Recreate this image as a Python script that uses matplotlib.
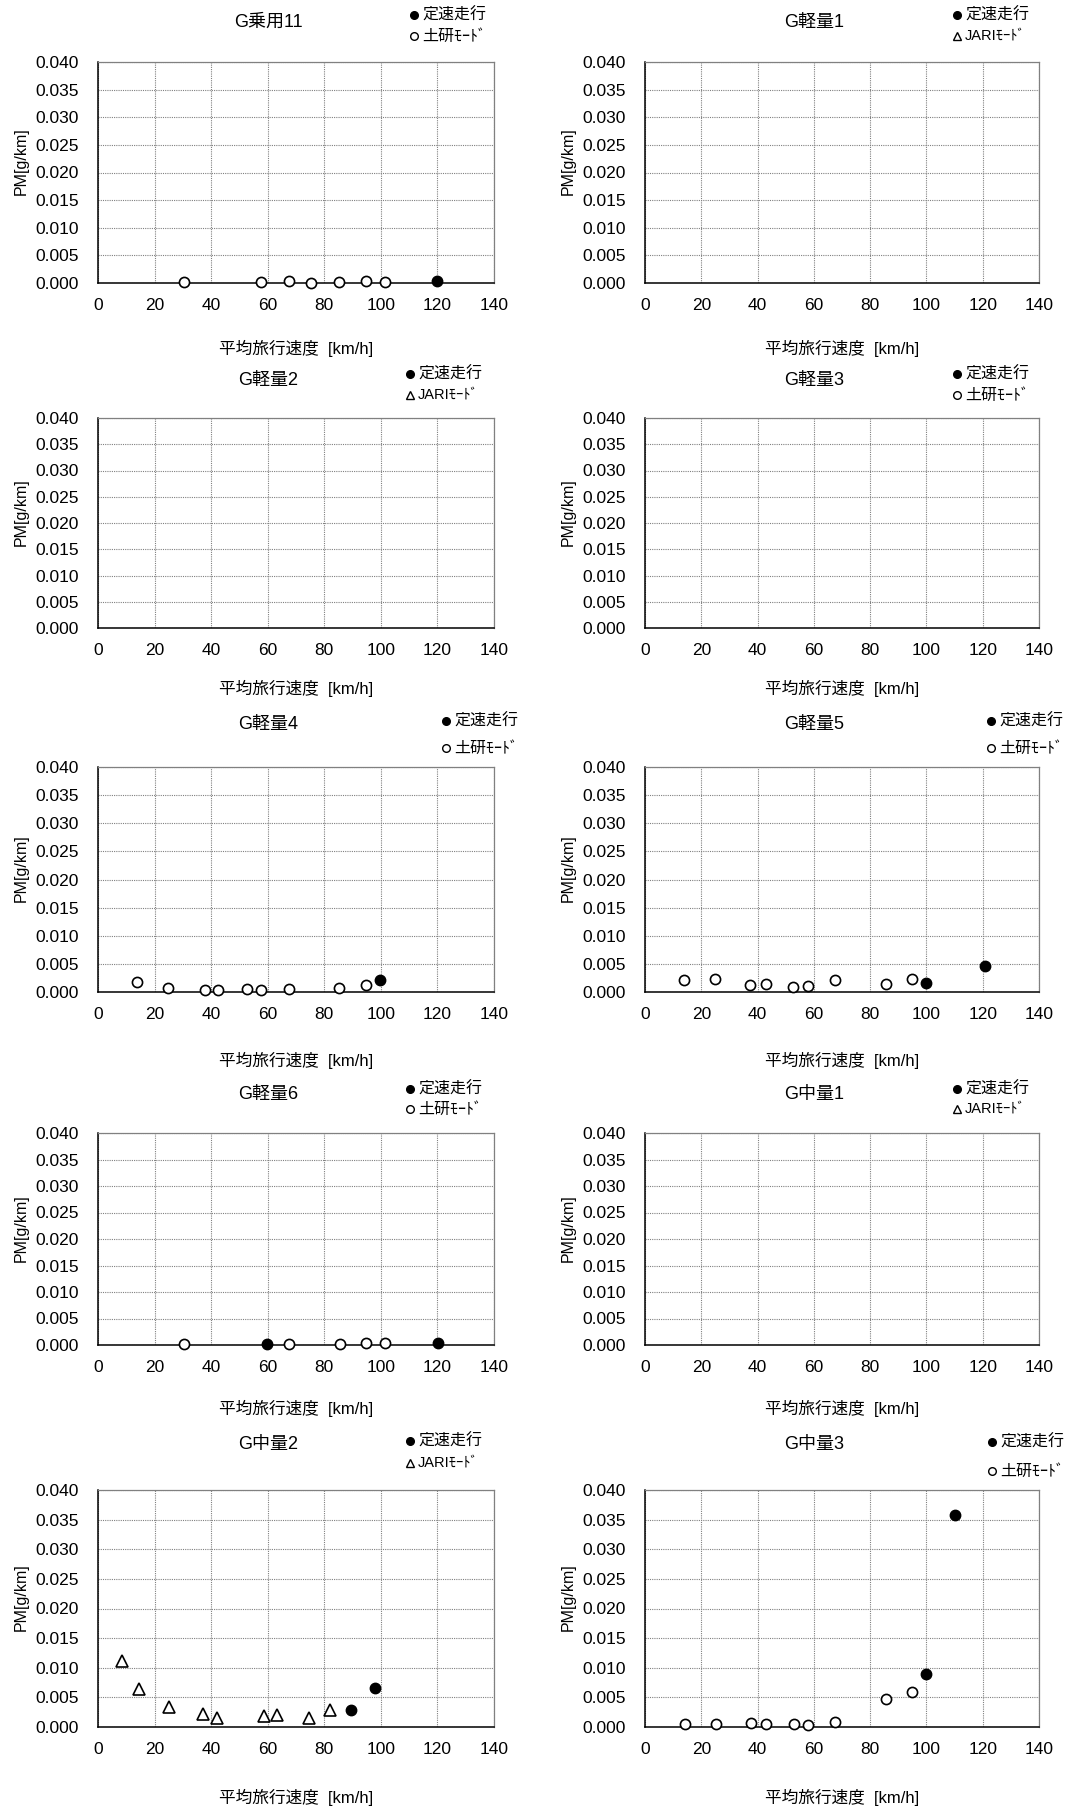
import numpy as np
import matplotlib
matplotlib.use("Agg")
import matplotlib.pyplot as plt
from matplotlib.lines import Line2D

plt.rcParams['font.family'] = ['Liberation Sans', 'Noto Sans CJK JP', 'DejaVu Sans']

# -------------------------------------------------
# data
# -------------------------------------------------
titles = ["G乗用11", "G軽量1", "G軽量2", "G軽量3", "G軽量4",
          "G軽量5", "G軽量6", "G中量1", "G中量2", "G中量3"]
mode_labels = ["土研ﾓｰﾄﾞ", "JARIﾓｰﾄﾞ", "JARIﾓｰﾄﾞ", "土研ﾓｰﾄﾞ", "土研ﾓｰﾄﾞ",
               "土研ﾓｰﾄﾞ", "土研ﾓｰﾄﾞ", "JARIﾓｰﾄﾞ", "JARIﾓｰﾄﾞ", "土研ﾓｰﾄﾞ"]
const_label = "定速走行"

# constant speed runs (filled circles)
const_x = [
    [120.0],
    [],
    [],
    [],
    [99.8],
    [100.0, 120.9],
    [59.8, 120.2],
    [],
    [89.4, 98.0],
    [100.0, 110.1],
]
const_y = [
    [0.0003],
    [],
    [],
    [],
    [0.0021],
    [0.0016, 0.0047],
    [0.0001, 0.0003],
    [],
    [0.0029, 0.0065],
    [0.0090, 0.0358],
]

# mode runs (open circles / triangles)
mode_x = [
    [30.4, 57.7, 67.6, 75.2, 85.3, 94.7, 101.3],
    [],
    [],
    [],
    [13.8, 24.8, 37.7, 42.6, 52.7, 57.6, 67.6, 85.3, 94.7],
    [13.8, 24.7, 37.3, 42.9, 52.7, 57.8, 67.5, 85.5, 94.8],
    [30.3, 67.4, 85.5, 94.7, 101.4],
    [],
    [8.4, 14.4, 25.2, 37.1, 41.9, 58.6, 63.2, 74.7, 81.9],
    [14.1, 25.2, 37.6, 42.9, 52.8, 57.8, 67.6, 85.5, 94.8],
]
mode_y = [
    [0.0001, 0.0001, 0.0003, 0.0000, 0.0001, 0.0003, 0.0001],
    [],
    [],
    [],
    [0.0017, 0.0008, 0.0004, 0.0004, 0.0005, 0.0004, 0.0005, 0.0008, 0.0012],
    [0.0021, 0.0023, 0.0012, 0.0015, 0.0009, 0.0010, 0.0022, 0.0014, 0.0024],
    [0.0001, 0.0001, 0.0002, 0.0004, 0.0003],
    [],
    [0.0111, 0.0064, 0.0034, 0.0022, 0.0015, 0.0019, 0.0020, 0.0015, 0.0029],
    [0.00045, 0.0005, 0.0007, 0.0005, 0.0005, 0.0003, 0.0008, 0.0048, 0.0059],
]

x_ticks = [0, 20, 40, 60, 80, 100, 120, 140]
y_ticks = [0.000, 0.005, 0.010, 0.015, 0.020, 0.025, 0.030, 0.035, 0.040]
x_label = "平均旅行速度  [km/h]"
y_label = "PM[g/km]"

# -------------------------------------------------
# layout (pixels)
# -------------------------------------------------
W, H = 1069, 1807
col_lr = [(98, 494), (645, 1039)]
row_tb = [(62, 283), (418, 628), (767, 992), (1133, 1345), (1490, 1727)]
title_y = [22, 381, 725, 1095, 1445]
xlab_y = [348, 688, 1060, 1408, 1797]
leg_x = [[414, 957], [410, 957], [446, 991], [410, 957], [410, 992]]
leg_y = [[(15, 36), (15, 36)], [(374, 395), (374, 395)], [(721, 748), (721, 748)],
         [(1089, 1109), (1089, 1109)], [(1441, 1463), (1442, 1471)]]

fig = plt.figure(figsize=(W / 100, H / 100), dpi=100)


def fx(px):
    return px / W


def fy(py):
    return 1 - py / H


for i, title in enumerate(titles):
    r, c = divmod(i, 2)
    l, rr = col_lr[c]
    t, b = row_tb[r]
    ax = fig.add_axes([fx(l), fy(b), fx(rr) - fx(l), fy(t) - fy(b)])

    ax.set_xlim(0, 140)
    ax.set_ylim(0, 0.040)
    ax.set_xticks(x_ticks)
    ax.set_yticks(y_ticks)
    ax.set_yticklabels([f"{v:.3f}" for v in y_ticks])
    ax.tick_params(length=0, labelsize=12.5)
    ax.tick_params(axis='x', pad=11)
    ax.tick_params(axis='y', pad=14)
    ax.grid(True, color='#808080', linestyle=(0, (1, 1)), linewidth=0.8)
    ax.set_axisbelow(True)
    for s in ['top', 'right']:
        ax.spines[s].set_color('#808080')
        ax.spines[s].set_linewidth(0.9)
    for s in ['left', 'bottom']:
        ax.spines[s].set_color('black')
        ax.spines[s].set_linewidth(1.1)

    jari = mode_labels[i].startswith("JARI")
    mk = '^' if jari else 'o'
    ax.plot(mode_x[i], mode_y[i], linestyle='none', marker=mk, markersize=8 if jari else 7.3,
            markerfacecolor='white', markeredgecolor='black', markeredgewidth=1.2,
            clip_on=False, zorder=3)
    ax.plot(const_x[i], const_y[i], linestyle='none', marker='o', markersize=7.5,
            markerfacecolor='black', markeredgecolor='black', clip_on=False, zorder=4)

    # title, axis labels
    fig.text(fx(l + 0.43 * (rr - l)), fy(title_y[r]), title, ha='center', va='center', fontsize=13)
    fig.text(fx((l + rr) / 2), fy(xlab_y[r]), x_label, ha='center', va='center', fontsize=12)
    fig.text(fx(l - 77), fy((t + b) / 2 - 11), y_label, ha='center', va='center',
             rotation=90, fontsize=11.5)

    # legend (text boxes above the plot)
    mx = leg_x[r][c]
    y1, y2 = leg_y[r][c]
    fig.add_artist(Line2D([fx(mx)], [fy(y1)], marker='o', markersize=5.5, color='black',
                          markerfacecolor='black', linestyle='none', transform=fig.transFigure))
    fig.add_artist(Line2D([fx(mx)], [fy(y2)], marker='^' if jari else 'o', markersize=5.5,
                          markerfacecolor='white', markeredgecolor='black', markeredgewidth=1.0,
                          linestyle='none', transform=fig.transFigure))
    fig.text(fx(mx + 8), fy(y1), const_label, ha='left', va='center', fontsize=11.5)
    fig.text(fx(mx + 8), fy(y2), mode_labels[i], ha='left', va='center',
             fontsize=10.5 if jari else 11.5)

fig.savefig("out.png", dpi=100)
